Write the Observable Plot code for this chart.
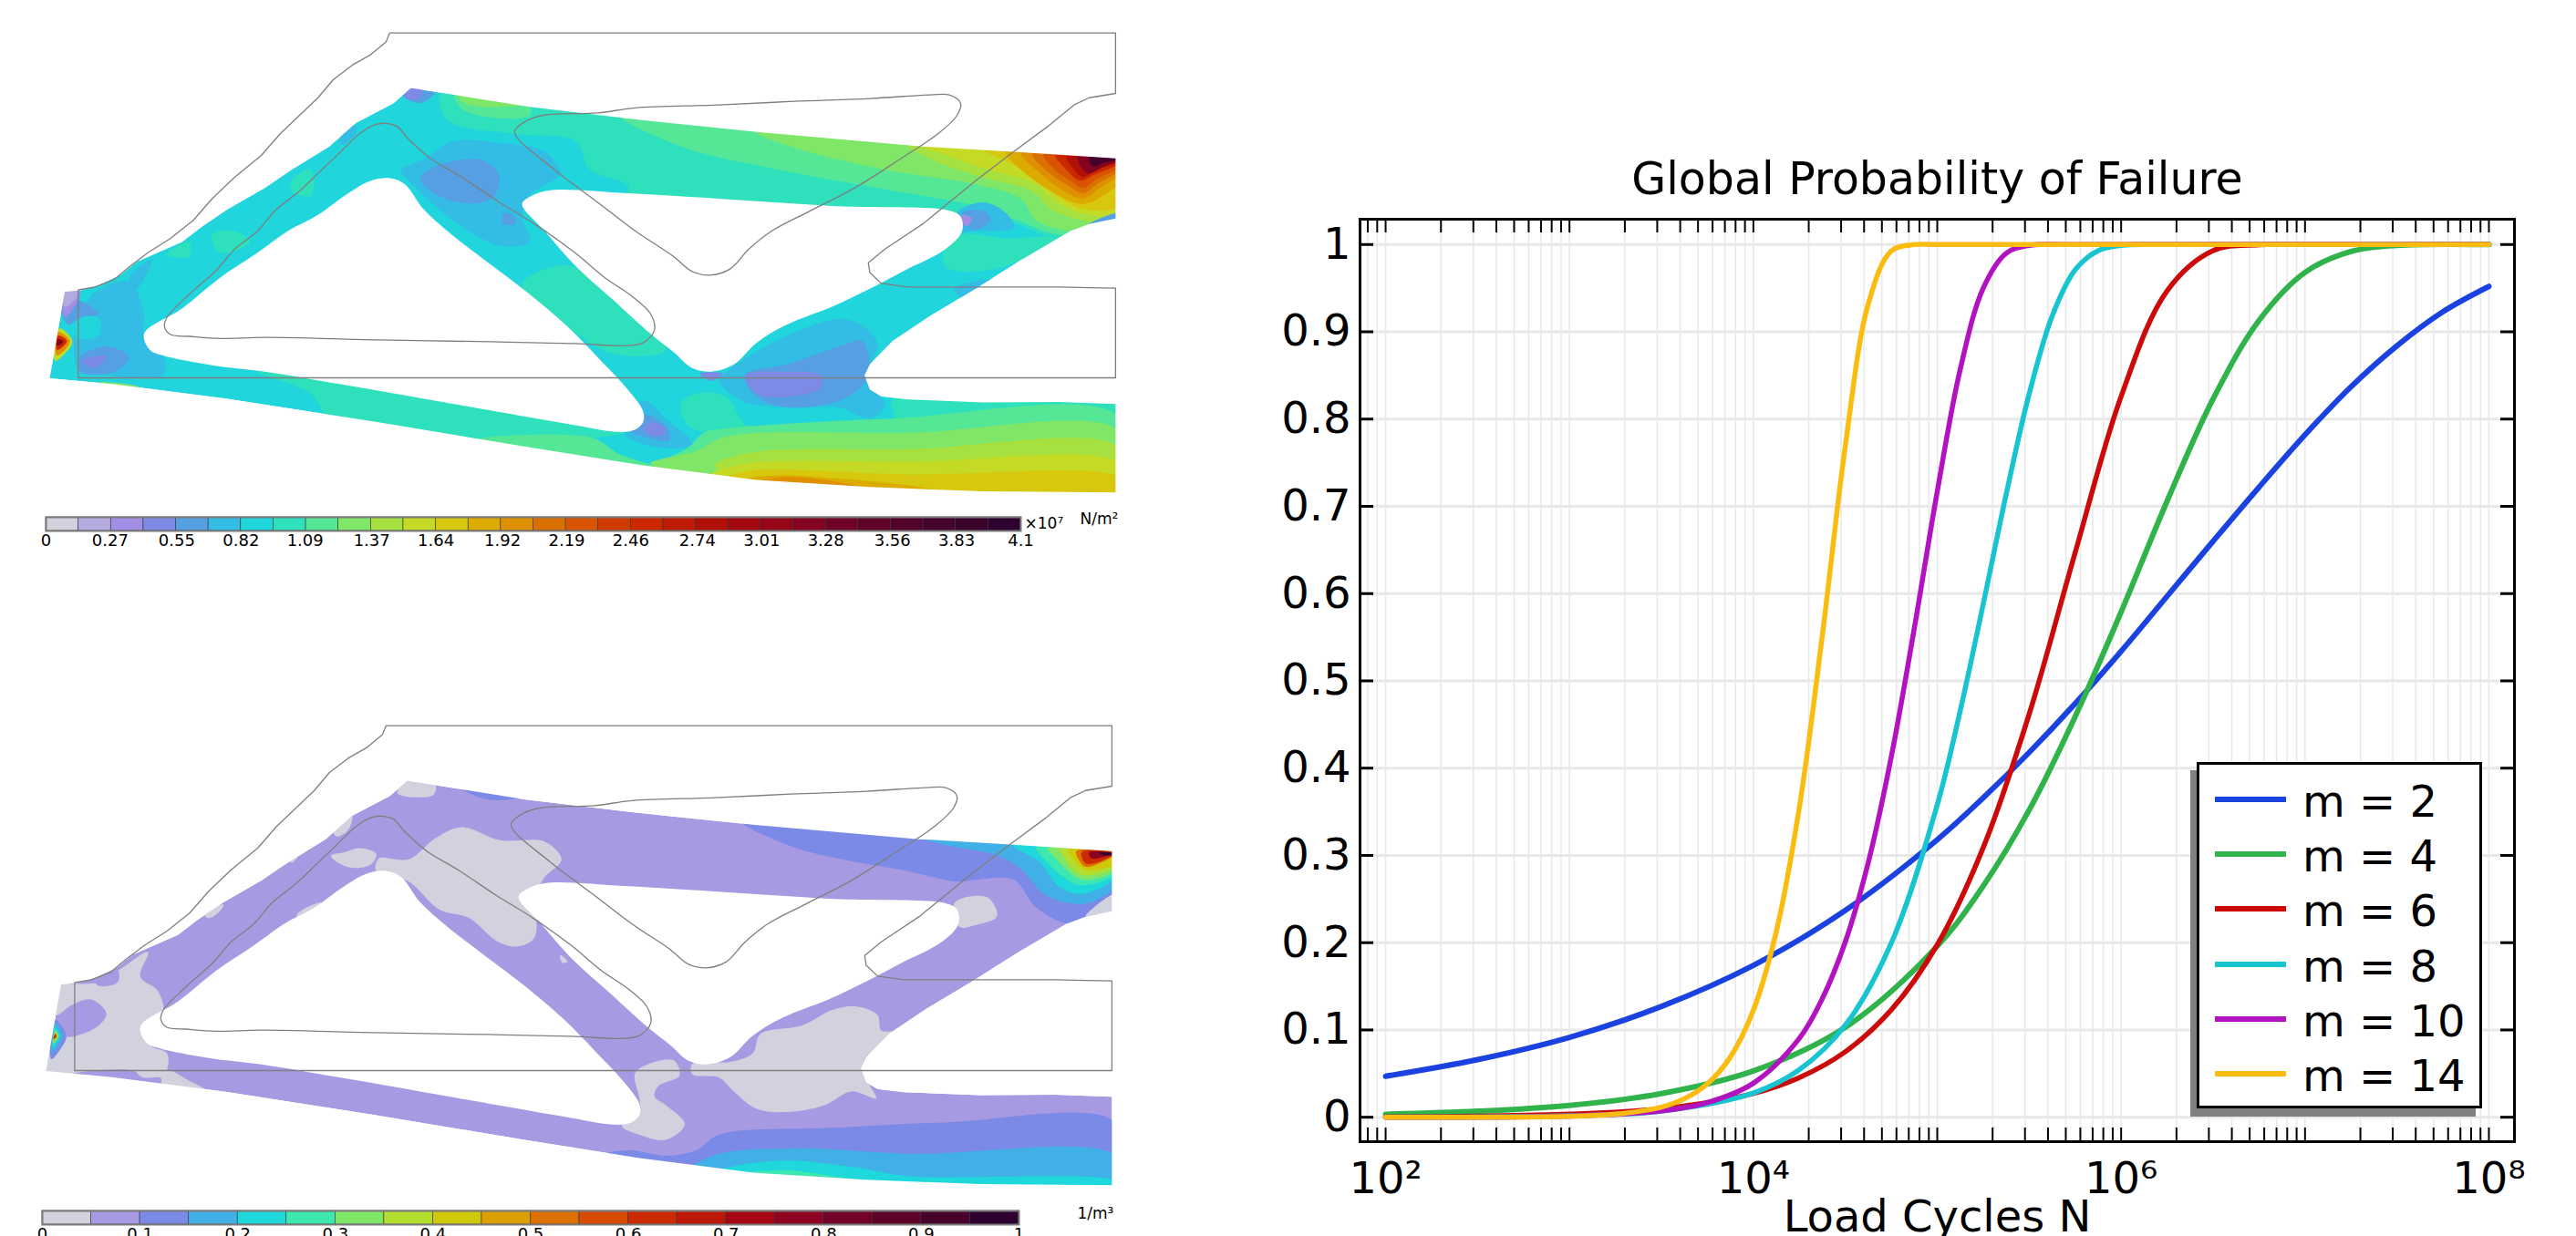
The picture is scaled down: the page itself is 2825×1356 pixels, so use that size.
<!DOCTYPE html>
<html><head><meta charset="utf-8">
<script src="https://cdn.jsdelivr.net/npm/d3@7"></script>
<script src="https://cdn.jsdelivr.net/npm/@observablehq/plot@0.6"></script>
<style>
html,body{margin:0;padding:0;background:#fff;overflow:hidden}
#page{position:relative;width:2825px;height:1356px;overflow:hidden;background:#fff;font-family:"DejaVu Sans"}
#page>*{position:absolute}
#page svg{max-width:none}
</style></head><body><div id="page"></div>
<script>
// ---------- Curve data: log10(N) and P ----------
const seriesNames=["m = 2","m = 4","m = 6","m = 8","m = 10","m = 14"];
const seriesColors=["#1a42e0","#2fb34a","#cc0a0a","#17c4cf","#b212c0","#fbbc12"];
const logN_m2=[2,2.5,3,3.5,4,4.5,5,5.25,5.5,5.75,6,6.25,6.5,6.75,7,7.25,7.5,7.75,8];
const prob_m2=[.047,.066,.0915,.127,.174,.237,.318,.366,.418,.474,.534,.597,.66,.722,.782,.837,.884,.923,.952];
const logN_m4=[2,2.5,3,3.5,4,4.5,5,5.25,5.5,5.75,6,6.25,6.5,6.75,7,7.25,7.5,8];
const prob_m4=[.0034,.0069,.0136,.0271,.053,.103,.196,.265,.352,.459,.579,.706,.823,.913,.968,.992,.999,1];
const logN_m6=[2,2.5,3,3.5,4,4.25,4.5,4.75,5,5.25,5.5,5.75,6,6.25,6.5,6.75,7,8];
const prob_m6=[.0004,.0012,.0035,.0098,.0273,.0454,.075,.123,.1976,.309,.462,.647,.826,.947,.993,.9997,1,1];
const logN_m8=[2,3,3.5,4,4.25,4.5,4.75,5,5.125,5.25,5.375,5.5,5.625,5.75,5.875,6,6.25,8];
const prob_m8=[.0001,.0018,.007,.0277,.0544,.1055,.1996,.358,.466,.588,.714,.829,.918,.971,.993,.999,1,1];
const logN_m10=[2,3,3.5,3.75,4,4.25,4.375,4.5,4.625,4.75,4.875,5,5.125,5.25,5.375,5.5,5.75,8];
const prob_m10=[0,.0013,.0071,.0168,.039,.0904,.136,.201,.292,.413,.56,.717,.857,.95,.99,.999,1,1];
const logN_m14=[2,3,3.25,3.5,3.625,3.75,3.875,4,4.125,4.25,4.375,4.5,4.625,4.75,4.875,5,8];
const prob_m14=[0,.001,.0035,.0116,.0212,.0383,.069,.1226,.213,.355,.552,.769,.932,.9926,.9999,1,1];
const logNs=[logN_m2,logN_m4,logN_m6,logN_m8,logN_m10,logN_m14];
const probs=[prob_m2,prob_m4,prob_m6,prob_m8,prob_m10,prob_m14];
const yTicks=[0,.1,.2,.3,.4,.5,.6,.7,.8,.9,1];
const xMajor=[1e2,1e4,1e6,1e8];
const xMajorLabels=["10²","10⁴","10⁶","10⁸"];
const xDecades=[10,100,1e3,1e4,1e5,1e6,1e7];
const xMultipliers=[1,2,3,4,5,6,7,8,9];

// ---------- Colour bars ----------
const stressPalette=["#d2d2df","#b5aae0","#a08fe4","#7d8ae6","#569fe3","#33bce4","#20d5dc","#2fe0bd","#55e696","#80e668","#a6e13f","#c4da25","#d7c80f","#dbab00","#de9000","#da7000","#d85400","#d03c00","#cc2800","#bf1b07","#b01006","#a30810","#960518","#840320","#700225","#600228","#52022a","#45022b","#3a022b","#2e0030"];
const stressTicks=[0,.27,.55,.82,1.09,1.37,1.64,1.92,2.19,2.46,2.74,3.01,3.28,3.56,3.83,4.1];
const densityPalette=["#d2d2df","#a89ae2","#7b8ae6","#41b0e6","#1fd8dc","#3de8b0","#80e668","#b3de2e","#d2c80a","#dca000","#dc7000","#d84a00","#cc2a00","#bd1808","#a60612","#8e0420","#720228","#5e0229","#46022b","#2e0030"];
const densityTicks=[0,.1,.2,.3,.4,.5,.6,.7,.8,.9,1];

// ---------- Truss geometry, in drawing units ----------
const silhouette=[[85,808],[105,805],[130,790],[160,760],[180,725],[240,670],[265,630],[300,580],[350,520],[385,470],[435,405],[470,340],[520,285],[543,243],[600,262],[700,295],[840,330],[1000,365],[1220,405],[1340,420],[1475,438],[1475,605],[1440,620],[1415,640],[1350,720],[1290,800],[1230,875],[1180,945],[1150,1010],[1143,1040],[1150,1080],[1165,1098],[1200,1107],[1300,1115],[1400,1114],[1475,1120],[1475,1365],[1300,1362],[1150,1350],[1000,1330],[850,1290],[700,1240],[500,1170],[300,1105],[150,1065],[65,1048],[75,930]];
const holeLeft=[[515,493],[535,510],[560,580],[600,655],[650,735],[700,815],[750,905],[790,990],[830,1080],[850,1140],[850,1170],[838,1192],[815,1197],[750,1175],[600,1120],[450,1065],[350,1030],[280,1012],[215,985],[198,970],[190,925],[240,855],[290,770],[340,700],[380,640],[420,595],[460,535],[490,500]];
const holeRight=[[725,527],[830,535],[950,550],[1100,570],[1255,583],[1270,600],[1272,640],[1250,690],[1200,745],[1150,800],[1100,850],[1040,900],[1000,950],[970,1010],[940,1030],[915,1020],[890,975],[860,925],[810,830],[760,735],[720,640],[690,565],[700,545]];
const outlineOuter=[[103,1047],[1475,1047],[1475,798],[1440,797],[1400,795],[1300,795],[1200,795],[1165,785],[1150,755],[1148,728],[1170,690],[1220,620],[1290,500],[1340,420],[1385,350],[1420,290],[1440,270],[1475,258],[1475,90],[515,90],[510,115],[490,150],[465,180],[440,220],[420,270],[395,320],[370,370],[345,430],[310,490],[280,550],[255,610],[225,660],[195,700],[170,740],[150,775],[125,795],[103,803],[103,1047]];
const outlineLeft=[[510,341],[495,345],[475,370],[450,420],[425,470],[395,530],[365,580],[340,640],[310,690],[285,750],[250,815],[220,880],[217,905],[225,927],[250,932],[290,938],[350,935],[500,942],[650,947],[760,952],[825,958],[850,950],[865,915],[860,870],[835,820],[800,770],[760,700],[710,625],[660,560],[610,490],[570,440],[540,385],[525,350]];
const outlineRight=[[680,365],[695,335],[720,318],[790,312],[840,298],[950,290],[1050,280],[1150,272],[1230,262],[1255,262],[1270,285],[1265,320],[1240,370],[1190,440],[1130,520],[1070,585],[1020,640],[990,690],[965,745],[938,762],[915,752],[890,710],[840,640],[790,560],[730,465]];

// ---------- Contour bands: [palette level, outline] painted in order ----------
const stressBands=[
[7,[[585,250],[590,330],[690,372],[760,390],[780,470],[830,515],[830,560],[1260,590],[1330,610],[1400,660],[1480,640],[1480,438]]],
[7,[[1250,680],[1270,650],[1330,660],[1395,660],[1350,720],[1300,750],[1250,740]]],
[7,[[690,790],[730,740],[760,740],[880,970],[810,980],[760,920]]],
[7,[[340,1030],[410,1090],[440,1170],[630,1225],[780,1215],[830,1195],[700,1140]]],
[7,[[920,1090],[960,1100],[990,1180],[1180,1160],[1180,1110],[1480,1125],[1480,1170],[1200,1170],[950,1200],[910,1180],[900,1120]]],
[7,[[280,650],[310,640],[330,670],[290,700]]],
[7,[[385,500],[410,470],[412,540],[385,530]]],
[7,[[220,705],[250,670],[250,710]]],
[8,[[600,262],[700,295],[700,320],[640,322],[610,300]]],
[8,[[820,320],[1000,365],[1480,438],[1480,640],[1400,650],[1345,610],[1290,570],[1200,535],[1030,470],[900,405]]],
[9,[[605,265],[690,290],[640,295],[615,285]]],
[9,[[1000,365],[1480,438],[1480,620],[1420,640],[1370,610],[1350,550],[1290,510],[1170,470],[1060,415]]],
[10,[[1200,400],[1480,438],[1480,610],[1430,610],[1390,580],[1365,530],[1290,485],[1230,440]]],
[11,[[1220,405],[1480,438],[1480,590],[1430,590],[1395,555],[1370,510],[1300,465],[1245,425]]],
[12,[[1300,415],[1480,438],[1480,570],[1430,578],[1400,545],[1365,490],[1335,450]]],
[13,[[1330,420],[1350,470],[1390,530],[1430,565],[1460,540],[1480,500],[1480,435]]],
[14,[[1350,423],[1370,470],[1400,520],[1432,550],[1455,520],[1480,480],[1480,435]]],
[15,[[1365,425],[1385,475],[1410,510],[1432,535],[1450,510],[1480,470],[1480,435]]],
[16,[[1380,427],[1395,470],[1415,500],[1432,520],[1450,495],[1480,460],[1480,435]]],
[18,[[1395,425],[1410,470],[1428,500],[1445,485],[1480,450],[1480,435]]],
[20,[[1410,428],[1420,470],[1432,490],[1450,470],[1480,445],[1480,435]]],
[23,[[1425,430],[1432,470],[1440,480],[1460,460],[1480,442],[1480,433]]],
[27,[[1440,430],[1445,460],[1460,450],[1480,440],[1480,433]]],
[4,[[1440,620],[1480,590],[1480,610],[1455,620]]],
[8,[[950,1190],[1180,1160],[1480,1155],[1480,1370],[1000,1340],[870,1290],[910,1240],[930,1200]]],
[8,[[620,1220],[780,1212],[820,1260],[870,1295],[700,1245]]],
[9,[[860,1285],[920,1250],[960,1210],[1200,1200],[1480,1195],[1480,1370],[1000,1340]]],
[10,[[945,1290],[990,1255],[1200,1245],[1480,1240],[1480,1370],[1000,1340]]],
[11,[[940,1315],[990,1285],[1200,1280],[1480,1285],[1480,1370],[1150,1355],[1000,1340]]],
[12,[[960,1325],[990,1305],[1200,1315],[1480,1325],[1480,1370],[1150,1355],[1000,1340]]],
[13,[[980,1330],[1020,1318],[1100,1325],[1200,1345],[1250,1365],[1150,1355]]],
[14,[[1000,1335],[1040,1322],[1090,1330],[1150,1355]]],
[5,[[560,440],[600,390],[660,395],[720,420],[740,480],[700,540],[690,600],[700,670],[660,680],[620,640],[575,570],[545,510],[530,470]]],
[5,[[980,1000],[1040,930],[1120,885],[1160,950],[1145,1050],[1170,1120],[1150,1160],[1110,1130],[1040,1130],[980,1110],[950,1050],[960,1030]]],
[5,[[125,810],[170,780],[190,870],[190,930],[215,985],[215,1040],[140,1040],[105,1030],[100,900]]],
[5,[[1265,590],[1300,560],[1330,590],[1340,630],[1290,640],[1272,640]]],
[5,[[850,1110],[880,1160],[915,1230],[870,1240],[825,1200]]],
[5,[[170,770],[200,720],[180,800]]],
[5,[[450,375],[470,345],[470,370],[450,400]]],
[5,[[1260,800],[1330,770],[1280,830]]],
[6,[[105,880],[130,880],[130,930],[100,935]]],
[4,[[555,490],[590,450],[640,445],[660,490],[650,550],[610,562],[570,530]]],
[4,[[985,1040],[1040,1010],[1110,960],[1140,945],[1148,1040],[1120,1100],[1050,1130],[1000,1100]]],
[4,[[105,990],[140,960],[170,990],[150,1030],[105,1030]]],
[4,[[1272,590],[1300,585],[1310,610],[1285,635]]],
[4,[[850,1150],[880,1180],[885,1220],[850,1210],[835,1195]]],
[4,[[665,590],[680,600],[680,620],[665,620]]],
[4,[[530,260],[575,255],[555,285]]],
[3,[[985,1040],[1040,1030],[1085,1040],[1085,1075],[1040,1100],[1000,1090]]],
[3,[[108,1000],[140,985],[125,1020]]],
[3,[[860,1170],[880,1190],[870,1210],[850,1190]]],
[3,[[540,245],[560,250],[550,275],[535,270]]],
[3,[[925,1035],[955,1035],[940,1055]]],
[2,[[1272,595],[1285,605],[1280,625],[1272,620]]],
[4,[[80,850],[100,830],[130,870],[105,880],[90,900]]],
[2,[[85,808],[105,805],[103,830],[85,880]]],
[1,[[85,808],[102,805],[100,825],[85,850]]],
[9,[[130,1060],[185,1075],[185,1095]]],
[11,[[72,1000],[78,910],[95,945],[85,980]]],
[14,[[75,920],[92,945],[75,985]]],
[18,[[76,930],[88,945],[75,970]]],
[23,[[76,940],[83,947],[75,958]]]
];
const densityBands=[
[0,[[542,241],[580,254],[577,283],[530,278]]],
[0,[[505,459],[545,461],[580,403],[615,372],[665,408],[725,412],[747,461],[725,509],[717,533],[695,557],[713,624],[710,682],[685,703],[660,686],[625,624],[585,600],[545,523],[502,494]]],
[0,[[442,451],[460,441],[480,430],[502,446],[495,475],[475,485],[455,475]]],
[0,[[445,384],[470,340],[465,379],[450,398]]],
[0,[[385,461],[402,441],[390,470]]],
[0,[[275,614],[300,586],[295,605],[280,624]]],
[0,[[397,614],[430,581],[425,614],[400,634]]],
[0,[[320,730],[340,709],[330,735]]],
[0,[[1267,581],[1310,566],[1323,619],[1295,643],[1273,648]]],
[0,[[745,726],[755,745],[748,748]]],
[0,[[970,1023],[1000,999],[1010,946],[1065,922],[1105,879],[1135,869],[1165,893],[1170,936],[1200,936],[1175,980],[1150,1008],[1145,1047],[1155,1090],[1163,1124],[1130,1105],[1095,1143],[1045,1162],[1005,1153],[975,1105],[955,1066],[920,1057],[920,1028]]],
[0,[[845,1052],[895,1018],[903,1061],[875,1090],[870,1119],[885,1143],[910,1196],[885,1239],[850,1225],[827,1201],[850,1162],[850,1124]]],
[0,[[80,809],[102,807],[135,802],[165,763],[200,718],[190,787],[213,826],[220,898],[195,941],[205,980],[225,999],[225,1047],[215,1075],[180,1060],[135,1060],[60,1052],[78,961],[105,951],[135,922],[145,888],[125,850],[100,864],[78,893]]],
[0,[[225,1047],[255,1076],[300,1129],[215,1100]]],
[1,[[130,797],[160,768],[160,802],[135,812]]],
[1,[[97,1059],[180,1047],[193,1066],[217,1068],[213,1100],[150,1085]]],
[2,[[617,266],[700,286],[665,297],[635,287]]],
[2,[[985,355],[1480,432],[1480,614],[1420,641],[1375,595],[1345,518],[1295,518],[1270,523],[1205,494],[1095,451],[1035,412]]],
[0,[[1440,619],[1480,557],[1480,605],[1455,614]]],
[3,[[1225,403],[1480,437],[1480,533],[1445,581],[1415,581],[1385,557],[1355,489],[1325,451],[1255,422]]],
[4,[[1345,422],[1480,437],[1480,509],[1435,557],[1405,537],[1380,470]]],
[5,[[1375,427],[1480,437],[1480,499],[1435,533],[1410,509],[1390,470]]],
[6,[[1390,432],[1480,440],[1480,490],[1437,518],[1415,490],[1400,456]]],
[7,[[1405,434],[1480,441],[1480,480],[1437,505],[1420,480],[1410,450]]],
[8,[[1418,436],[1480,443],[1480,472],[1440,490],[1428,470]]],
[10,[[1428,438],[1480,443],[1470,460],[1440,482],[1432,465]]],
[12,[[1435,440],[1480,444],[1455,470],[1440,472]]],
[15,[[1445,441],[1480,445],[1462,455],[1448,458]]],
[19,[[1458,442],[1480,445],[1465,450]]],
[2,[[795,1283],[835,1268],[885,1283],[925,1268],[955,1225],[1105,1206],[1255,1191],[1480,1191],[1480,1370],[1155,1355],[955,1326]]],
[3,[[920,1316],[955,1278],[1055,1263],[1205,1278],[1480,1283],[1480,1375],[1155,1360],[955,1330]]],
[4,[[955,1326],[1005,1302],[1055,1297],[1135,1316],[1205,1340],[1480,1355],[1480,1375],[1155,1360]]],
[5,[[990,1331],[1045,1324],[1095,1336],[1150,1358]]],
[2,[[72,1015],[76,905],[92,950],[85,985]]],
[3,[[73,1000],[77,915],[88,950],[82,975]]],
[4,[[74,985],[77,925],[84,950],[80,970]]],
[6,[[75,975],[77,935],[82,950],[78,965]]],
[8,[[75,968],[77,940],[80,951],[78,960]]],
[12,[[75,960],[77,945],[79,952]]]
];

// ---------- Drawing ----------
const page=document.getElementById("page");
const place=(el,left,top)=>{el.style.left=left+"px";el.style.top=top+"px";page.appendChild(el);return el;};
const px=d=>d[0],py=d=>d[1];
const FONT="DejaVu Sans";

function truss(base,bands,palette){
  const frameBox=[[0,0],[1568,0],[1568,1568],[0,1568],[0,0]];
  const mask=[...frameBox,...silhouette.slice().reverse(),silhouette[silhouette.length-1],[0,0]];
  const poly=(pts,fill,curve)=>Plot.line(pts,{x:px,y:py,fill,stroke:"none",curve});
  const outline=(pts,curve)=>Plot.line(pts,{x:px,y:py,stroke:"#7f7f7f",strokeWidth:1.3,curve});
  return Plot.plot({
    width:1300,height:620,margin:0,
    x:{domain:[0,1568],range:[0,1300],axis:null},
    y:{domain:[0,1568],range:[0,620],axis:null},
    style:{background:"none"},
    marks:[
      poly(silhouette,base,"linear"),
      ...bands.map(([lev,pts])=>poly(pts,palette[lev],"catmull-rom-closed")),
      poly(holeLeft,"#fff","catmull-rom-closed"),
      poly(holeRight,"#fff","catmull-rom-closed"),
      poly(mask,"#fff","linear"),
      outline(outlineOuter,"linear"),
      outline(outlineLeft,"catmull-rom-closed"),
      outline(outlineRight,"catmull-rom-closed")
    ]
  });
}
place(truss(stressPalette[6],stressBands,stressPalette),0,0);
place(truss(densityPalette[1],densityBands,densityPalette),-4,760);

function colorBar(palette,max,ticks,left,right,top,height,extra){
  const step=max/palette.length;
  const cells=palette.map((c,i)=>({x1:i*step,x2:(i+1)*step,c}));
  return Plot.plot({
    width:1300,height,marginLeft:left,marginRight:1300-right,marginTop:top,marginBottom:height-top-15,
    x:{domain:[0,max],axis:null},
    style:{background:"none",fontFamily:FONT},
    marks:[
      Plot.barX(cells,{x1:"x1",x2:"x2",fill:"c",stroke:"#333",strokeWidth:.6,inset:0}),
      Plot.frame({stroke:"#7a7a7a",strokeWidth:2}),
      Plot.axisX(ticks,{anchor:"bottom",label:null,tickSize:0,tickPadding:4,fontSize:18,tickFormat:d=>String(d),fill:"#000"}),
      ...extra
    ]
  });
}
place(colorBar(stressPalette,4.1,stressTicks,50,1119,7,50,[
  Plot.text(["×10⁷"],{frameAnchor:"right",textAnchor:"start",dx:4,fontSize:17,fill:"#000"}),
  Plot.text(["N/m²"],{frameAnchor:"right",textAnchor:"start",dx:65,dy:-5,fontSize:17,fill:"#000"})
]),0,560);
place(colorBar(densityPalette,1,densityTicks,46,1117,8,46,[
  Plot.text(["1/m³"],{frameAnchor:"right",textAnchor:"start",dx:64,dy:-4,fontSize:17,fill:"#000"})
]),0,1320);

// Line chart
const W=1425,H=1206,mL=91,mR=68,mT=90,mB=104,fW=W-mL-mR,fH=H-mT-mB,TL=15;
const xAll=xDecades.flatMap(d=>xMultipliers.map(k=>k*d)).concat([1e8]).filter(v=>v>=72.6&&v<=1.377e8);
const curves=seriesNames.map((name,s)=>
  Plot.line(logNs[s].map((l,i)=>({N:10**l,P:probs[s][i]})),{x:"N",y:"P",stroke:seriesColors[s],strokeWidth:s<2?6:5.5,curve:"catmull-rom"}));
const lineChart=Plot.plot({
  width:W,height:H,marginLeft:mL,marginRight:mR,marginTop:mT,marginBottom:mB,
  x:{type:"log",domain:[72.6,1.377e8],axis:null},
  y:{domain:[-.028,1.029],axis:null},
  style:{background:"none",fontFamily:FONT},
  marks:[
    Plot.ruleX(xAll,{x:d=>d,stroke:"#e8e8e8",strokeWidth:1.5}),
    Plot.ruleY(yTicks,{y:d=>d,stroke:"#e8e8e8",strokeWidth:3}),
    ...curves,
    Plot.ruleX(xAll,{x:d=>d,insetBottom:fH-TL,stroke:"#000",strokeWidth:2}),
    Plot.ruleX(xAll,{x:d=>d,insetTop:fH-TL,stroke:"#000",strokeWidth:2}),
    Plot.ruleY(yTicks,{y:d=>d,insetRight:fW-TL,stroke:"#000",strokeWidth:3}),
    Plot.ruleY(yTicks,{y:d=>d,insetLeft:fW-TL,stroke:"#000",strokeWidth:3}),
    Plot.frame({stroke:"#000",strokeWidth:3}),
    Plot.axisY(yTicks,{anchor:"left",label:null,tickSize:0,tickPadding:10,fontSize:48,tickFormat:d=>String(d),fill:"#000"}),
    Plot.axisX(xMajor,{anchor:"bottom",label:null,tickSize:0,tickPadding:22,fontSize:48,tickFormat:d=>xMajorLabels[xMajor.indexOf(d)],fill:"#000"}),
    Plot.text(["Global Probability of Failure"],{frameAnchor:"top",lineAnchor:"middle",dy:-43,fontSize:49,fill:"#000"}),
    Plot.text(["Load Cycles N"],{frameAnchor:"bottom",lineAnchor:"middle",dy:83,fontSize:48,fill:"#000"})
  ]
});
place(lineChart,1400,150);

// Legend
const legend=document.createElement("div");
legend.style.cssText="left:2409px;top:836px;width:307px;height:374px;background:#fff;border:3px solid #000;box-shadow:-7px 9px 0 #808080;";
page.appendChild(legend);
seriesNames.forEach((name,i)=>{
  const y=i*60.2;
  const sw=document.createElement("div");
  sw.style.cssText=`position:absolute;left:17px;top:${35+y}px;width:78px;height:6px;background:${seriesColors[i]}`;
  const t=document.createElement("div");
  t.textContent=name;
  t.style.cssText=`position:absolute;left:113px;top:${10+y}px;line-height:60px;font-size:48px;font-family:'${FONT}';color:#000;white-space:nowrap`;
  legend.append(sw,t);
});
</script></body></html>
